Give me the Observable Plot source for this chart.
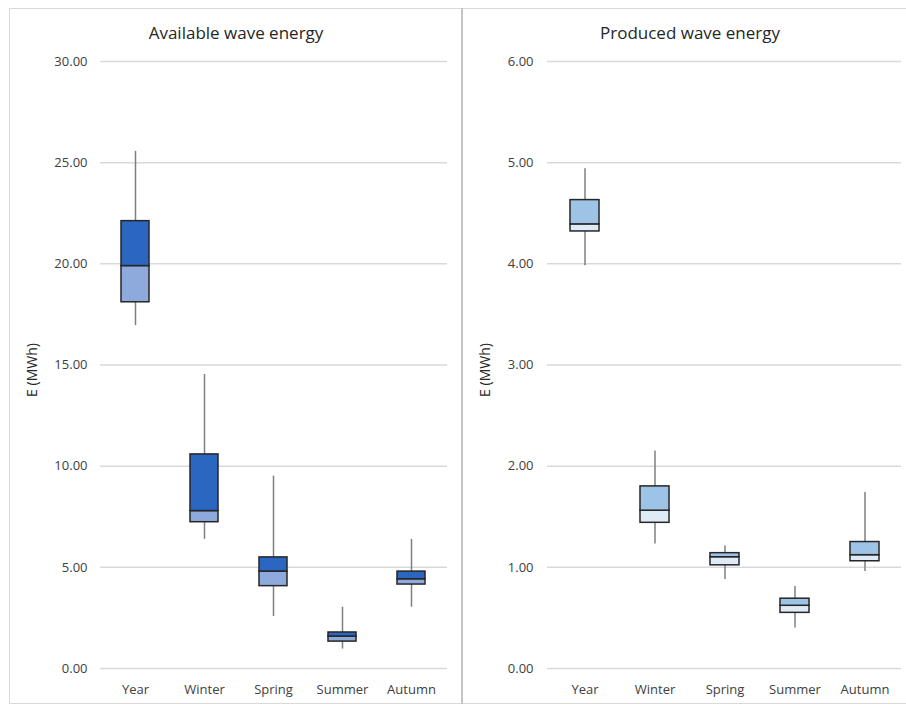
<!DOCTYPE html>
<html>
<head>
<meta charset="utf-8">
<script src="https://cdn.jsdelivr.net/npm/d3@7"></script>
<script src="https://cdn.jsdelivr.net/npm/@observablehq/plot@0.6"></script>
<style>
  html, body { margin: 0; padding: 0; background: #fff; }
  #wrap { position: relative; width: 906px; height: 706px; overflow: hidden; background: #fff; font-family: "Open Sans", sans-serif; }
  .frame { position: absolute; box-sizing: border-box; }
  .title { position: absolute; font-size: 17px; color: #262626; text-align: center; white-space: nowrap; transform: translate(-50%, -50%); }
  .panel { position: absolute; }
</style>
</head>
<body>
<div id="wrap">
  <div class="frame" style="left:9px; top:8px; width:905px; height:696px; border:1px solid #d9d9d9;"></div>
  <div class="frame" style="left:461px; top:8px; width:2px; height:696px; background:#c4c4c4;"></div>
  <div class="title" style="left:236px; top:32px;">Available wave energy</div>
  <div class="title" style="left:690px; top:32px;">Produced wave energy</div>
  <div class="panel" id="left" style="left:9px; top:45px;"></div>
  <div class="panel" id="right" style="left:463px; top:45px;"></div>
</div>
<script>
// Categories
const categories = ["Year", "Winter", "Spring", "Summer", "Autumn"];

// Available wave energy (MWh)
const availMin    = [16.95, 6.38, 2.57, 0.96, 3.03];
const availQ1     = [18.10, 7.23, 4.07, 1.33, 4.15];
const availMedian = [19.89, 7.78, 4.79, 1.58, 4.41];
const availQ3     = [22.11, 10.58, 5.49, 1.78, 4.79];
const availMax    = [25.56, 14.53, 9.51, 3.03, 6.38];
const availTicks  = [0, 5, 10, 15, 20, 25, 30];

// Produced wave energy (MWh)
const prodMin    = [3.98, 1.23, 0.88, 0.40, 0.96];
const prodQ1     = [4.32, 1.44, 1.02, 0.55, 1.06];
const prodMedian = [4.39, 1.56, 1.10, 0.62, 1.12];
const prodQ3     = [4.63, 1.80, 1.14, 0.69, 1.25];
const prodMax    = [4.94, 2.15, 1.21, 0.81, 1.74];
const prodTicks  = [0, 1, 2, 3, 4, 5, 6];

const yLabel = "E (MWh)";

function rows(mn, q1, med, q3, mx) {
  return categories.map((c, i) => ({cat: c, min: mn[i], q1: q1[i], median: med[i], q3: q3[i], max: mx[i]}));
}

function boxChart({data, domain, ticks, width, marginLeft, marginRight, tickPadding, labelOffset, upperFill, lowerFill}) {
  const fmt = d3.format(".2f");
  return Plot.plot({
    width,
    height: 655,
    marginTop: 16,
    marginBottom: 32,
    marginLeft,
    marginRight,
    style: {fontFamily: "'Open Sans', sans-serif", fontSize: "13px", color: "#404040", background: "transparent"},
    x: {domain: categories, paddingInner: 0.59, paddingOuter: 0.295},
    y: {domain, ticks},
    marks: [
      Plot.gridY(ticks, {stroke: "#d9d9d9", strokeOpacity: 1, strokeWidth: 1.5}),
      Plot.axisY(ticks, {tickSize: 0, tickPadding, tickFormat: fmt, fontSize: 13, fill: "#404040", label: null}),
      Plot.axisX({tickSize: 0, tickPadding: 16, fontSize: 13, fill: "#404040", label: null}),
      Plot.text([yLabel], {text: d => d, frameAnchor: "left", textAnchor: "middle", lineAnchor: "middle", rotate: -90, dx: -labelOffset, dy: 5, fontSize: 14, fill: "#262626"}),
      Plot.ruleX(data, {x: "cat", y1: "min", y2: "max", stroke: "#7f7f7f", strokeWidth: 1.5}),
      Plot.barY(data, {x: "cat", y1: "q1", y2: "median", fill: lowerFill, stroke: "#262626", strokeWidth: 1.5}),
      Plot.barY(data, {x: "cat", y1: "median", y2: "q3", fill: upperFill, stroke: "#262626", strokeWidth: 1.5})
    ]
  });
}

document.getElementById("left").append(boxChart({
  data: rows(availMin, availQ1, availMedian, availQ3, availMax),
  domain: [0, 30], ticks: availTicks,
  width: 452, marginLeft: 91, marginRight: 14, tickPadding: 13, labelOffset: 68,
  upperFill: "#2b66c0", lowerFill: "#8eaadc"
}));

document.getElementById("right").append(boxChart({
  data: rows(prodMin, prodQ1, prodMedian, prodQ3, prodMax),
  domain: [0, 6], ticks: prodTicks,
  width: 442, marginLeft: 84, marginRight: 4, tickPadding: 14, labelOffset: 62,
  upperFill: "#9dc3e6", lowerFill: "#deebf7"
}));
</script>
</body>
</html>
